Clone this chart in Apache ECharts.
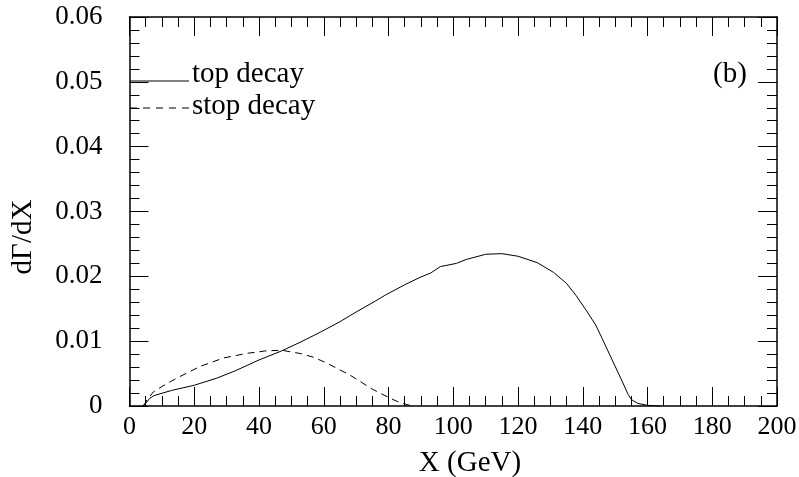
<!DOCTYPE html>
<html>
<head>
<meta charset="utf-8">
<script src="https://cdn.jsdelivr.net/npm/echarts@6/dist/echarts.min.js"></script>
<style>html,body{margin:0;padding:0;background:#fff}#c{width:799px;height:477px}</style>
</head>
<body>
<div id="c"></div>
<script>
const xTicks = [0, 20, 40, 60, 80, 100, 120, 140, 160, 180, 200];
const yTicks = ['0', '0.01', '0.02', '0.03', '0.04', '0.05', '0.06'];
const topDecay = [[4,0],[5,0.0004],[6.3,0.0012],[7.5,0.0016],[13,0.0024],[20,0.0032],[27,0.0043],[33,0.0055],[40,0.0071],[47,0.0085],[53,0.0099],[59,0.0114],[65,0.0130],[70,0.0145],[76,0.0162],[79,0.0171],[85,0.0187],[90,0.0199],[93,0.0205],[96,0.0215],[101,0.0220],[104,0.0226],[110,0.0234],[115,0.0235],[120,0.0231],[126,0.0221],[131,0.0206],[135,0.0189],[138,0.0170],[141,0.0148],[144,0.0125],[146,0.0104],[149,0.0072],[152,0.0040],[154,0.0018],[155,0.0010],[157,0.0004],[160,0.0001],[164,0]];
const stopDecay = [[4.3,0],[5.5,0.0010],[7.4,0.0022],[10,0.0030],[14.6,0.0043],[21.8,0.0061],[29,0.0074],[36,0.0081],[42,0.0085],[47,0.0086],[52.7,0.0081],[57,0.0075],[61,0.0066],[68,0.0048],[75,0.0026],[80.5,0.0012],[83.6,0.0005],[86.6,0.0001],[88,0]];
const seriesNames = ['top decay', 'stop decay'];
const xTitle = 'X (GeV)';
const yTitle = 'dΓ/dX';
const panelLabel = '(b)';

const FONT = 'Liberation Serif';
const chart = echarts.init(document.getElementById('c'));
function xAx(pos, show) {
  return {
    type: 'value', position: pos, min: xTicks[0], max: xTicks[xTicks.length-1], interval: xTicks[1]-xTicks[0],
    axisLine: {show: true, onZero: false, lineStyle: {color: '#000', width: 1.5}},
    axisTick: {show: true, inside: true, length: 19, lineStyle: {color: '#000', width: 1}},
    minorTick: {show: true, splitNumber: 4, length: 10, lineStyle: {color: '#000', width: 1}},
    splitLine: {show: false},
    axisLabel: {show: show, fontFamily: FONT, fontSize: 26, color: '#000', margin: 8}
  };
}
function yAx(pos, show) {
  return {
    type: 'value', position: pos, min: 0, max: 0.06, interval: 0.01,
    axisLine: {show: true, onZero: false, lineStyle: {color: '#000', width: 1.5}},
    axisTick: {show: true, inside: true, length: 19, lineStyle: {color: '#000', width: 1}},
    minorTick: {show: true, splitNumber: 5, length: 10, lineStyle: {color: '#000', width: 1}},
    splitLine: {show: false},
    axisLabel: {show: show, fontFamily: FONT, fontSize: 27, color: '#000', margin: 27,
      formatter: v => yTicks[Math.round(v / 0.01)]}
  };
}
const f29 = '29px "Liberation Serif"';
chart.setOption({
  animation: false,
  backgroundColor: '#fff',
  grid: {left: 129.5, right: 22, top: 17, bottom: 71, outerBoundsMode: 'none', containLabel: false},
  xAxis: [xAx('bottom', true), xAx('top', false)],
  yAxis: [yAx('left', true), yAx('right', false)],
  series: [
    {name: seriesNames[0], type: 'line', data: topDecay, showSymbol: false, symbol: 'none',
      lineStyle: {color: '#000', width: 1}, xAxisIndex: 0, yAxisIndex: 0},
    {name: seriesNames[1], type: 'line', data: stopDecay, showSymbol: false, symbol: 'none',
      lineStyle: {color: '#000', width: 1, type: [7, 5]}, xAxisIndex: 0, yAxisIndex: 0}
  ],
  graphic: [
    {type: 'line', shape: {x1: 130, y1: 81, x2: 189, y2: 81}, style: {stroke: '#000', lineWidth: 1}},
    {type: 'text', left: 192, top: 60, style: {text: seriesNames[0], font: f29, fill: '#000'}},
    {type: 'line', shape: {x1: 130, y1: 108, x2: 190, y2: 108}, style: {stroke: '#000', lineWidth: 1, lineDash: [7, 6]}},
    {type: 'text', left: 192, top: 92, style: {text: seriesNames[1], font: f29, fill: '#000'}},
    {type: 'text', left: 713, top: 60, style: {text: panelLabel, font: f29, fill: '#000'}},
    {type: 'text', x: 470, y: 463, style: {text: xTitle, font: f29, fill: '#000', align: 'center', verticalAlign: 'middle'}},
    {type: 'text', x: 23, y: 237, rotation: Math.PI / 2, style: {text: yTitle, font: f29, fill: '#000', align: 'center', verticalAlign: 'middle'}}
  ]
});
</script>
</body>
</html>
